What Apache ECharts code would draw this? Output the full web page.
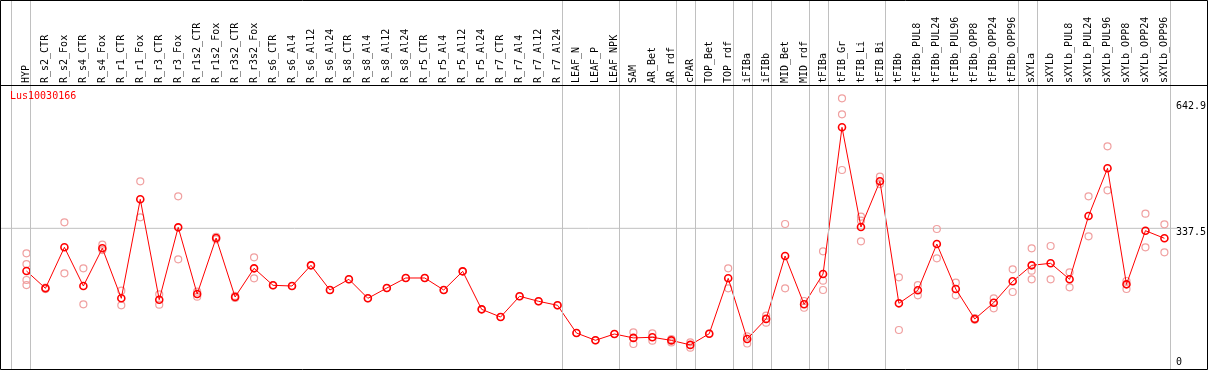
<!DOCTYPE html>
<html>
<head>
<meta charset="utf-8">
<script src="https://cdn.jsdelivr.net/npm/echarts@6/dist/echarts.min.js"></script>
<style>
html,body{margin:0;padding:0;background:#fff;}
#chart{width:1209px;height:370px;}
</style>
</head>
<body>
<div id="chart"></div>
<script>
const titleText = 'Lus10030166';
const categories = ['HYP','R_s2_CTR','R_s2_Fox','R_s4_CTR','R_s4_Fox','R_r1_CTR','R_r1_Fox','R_r3_CTR','R_r3_Fox','R_r1s2_CTR','R_r1s2_Fox','R_r3s2_CTR','R_r3s2_Fox','R_s6_CTR','R_s6_Al4','R_s6_Al12','R_s6_Al24','R_s8_CTR','R_s8_Al4','R_s8_Al12','R_s8_Al24','R_r5_CTR','R_r5_Al4','R_r5_Al12','R_r5_Al24','R_r7_CTR','R_r7_Al4','R_r7_Al12','R_r7_Al24','LEAF_N','LEAF_P','LEAF_NPK','SAM','AR_Bet','AR_rdf','cPAR','TOP_Bet','TOP_rdf','iFIBa','iFIBb','MID_Bet','MID_rdf','tFIBa','tFIB_Gr','tFIB_Li','tFIB_Bi','tFIBb','tFIBb_PUL8','tFIBb_PUL24','tFIBb_PUL96','tFIBb_OPP8','tFIBb_OPP24','tFIBb_OPP96','sXYLa','sXYLb','sXYLb_PUL8','sXYLb_PUL24','sXYLb_PUL96','sXYLb_OPP8','sXYLb_OPP24','sXYLb_OPP96'];
const means = [233.7,191.6,291.3,197.2,288.9,167.3,408.0,163.9,339.9,177.8,313.9,170.5,240.2,198.9,197.2,247.5,187.5,213.5,167.3,192.3,216.7,216.7,187.5,232.9,140.5,121.8,172.2,160.0,150.3,82.9,65.2,80.5,71.0,72.5,65.0,54.0,81.2,215.9,68.3,117.2,270.2,152.7,226.4,583.1,340.7,451.8,155.1,186.8,299.3,189.9,117.0,156.6,208.6,247.5,252.4,213.5,367.4,483.4,201.3,331.7,313.2];
const replicates = [
  [276.7,250.6,211.8,199.6],[193.5,189.7],[352.1,228.0],[240.2,152.7],[297.6,284.7],
  [185.8,150.3],[451.8,364.3],[177.0,151.7],[415.3,262.1],[183.4,171.2],
  [317.0,310.8],[173.0,168.0],[267.0,215.9],[198.9],[197.2],
  [247.5],[187.5],[213.5],[167.3],[192.3],
  [216.7],[216.7],[187.5],[232.9],[140.5],
  [121.8],[172.2],[160.0],[150.3],[82.9],
  [65.2],[80.5],[84.6,56.2],[82.2,64.2],[68.3,60.0],
  [60.3,47.2],[81.2],[240.2,191.6],[74.9,57.4],[125.0,108.0],
  [348.0,191.6],[160.7,144.4],[281.6,210.1,187.5],[653.6,614.7,479.3],[365.7,356.0,305.9],
  [463.0,445.2],[218.4,90.2],[199.6,174.6],[335.8,264.6],[205.2,174.6],
  [119.0,115.0],[167.3,143.0],[237.8,182.7],[288.9,234.4,213.5],[294.5,213.5],
  [230.5,194.0],[415.3,318.0],[536.9,429.9],[209.4,189.9],[373.0,291.3],
  [347.2,279.1]
];
const groupBoundaries = [-1,0,28,31,34,35,37,38,39,41,42,45,52,53,60];
const yTickValues = [0, 337.5, 642.9];
const refValue = 337.5;

const MONO = 'DejaVu Sans Mono';
const W = 1209, H = 370;
const PLOT_TOP = 85, PLOT_BOTTOM = 369;
const CAT_W = 19, FIRST_X = 26.5;
const gridLeft = FIRST_X - CAT_W / 2;
const gridWidth = CAT_W * categories.length;
const yMin = -4.6, yMax = 686;
const pxPerUnit = (PLOT_BOTTOM - PLOT_TOP) / (yMax - yMin);
// full-canvas decoration scales matching the plot scales
const fxMin = -FIRST_X / CAT_W, fxMax = fxMin + W / CAT_W;
const fyMax = yMax + PLOT_TOP / pxPerUnit, fyMin = yMin - (H - PLOT_BOTTOM) / pxPerUnit;
const sepOffset = 4 / CAT_W;

const repData = [];
replicates.forEach((r, i) => r.forEach(v => repData.push([categories[i], v])));

const chart = echarts.init(document.getElementById('chart'), null, {renderer: 'canvas'});
chart.setOption({
  animation: false,
  backgroundColor: '#fff',
  title: {
    text: titleText, left: 10, top: 91, padding: 0,
    textStyle: {fontFamily: MONO, fontSize: 10, fontWeight: 'normal', color: '#ff0000'}
  },
  grid: [
    {left: 0, top: 0, width: W, height: H, show: false},
    {left: gridLeft, top: PLOT_TOP, width: gridWidth, height: PLOT_BOTTOM - PLOT_TOP, show: false}
  ],
  xAxis: [
    {type: 'value', gridIndex: 0, min: fxMin, max: fxMax, show: false},
    {type: 'category', gridIndex: 1, data: categories, position: 'top',
     axisLine: {show: false}, axisTick: {show: false}, splitLine: {show: false},
     axisLabel: {interval: 0, rotate: 90, margin: 2, fontFamily: MONO, fontSize: 10, color: '#000'}}
  ],
  yAxis: [
    {type: 'value', gridIndex: 0, min: fyMin, max: fyMax, show: false},
    {type: 'value', gridIndex: 1, min: yMin, max: yMax, position: 'right',
     axisLine: {show: false}, axisTick: {show: false}, splitLine: {show: false},
     axisLabel: {
       customValues: yTickValues, margin: 2, fontFamily: MONO, fontSize: 10, color: '#000',
       formatter: v => v === 0 ? '{b|0}' : '{t|' + v + '}',
       rich: {
         t: {fontFamily: MONO, fontSize: 10, color: '#000', padding: [8, 0, 0, 0]},
         b: {fontFamily: MONO, fontSize: 10, color: '#000', padding: [0, 0, 10, 0]}
       }
     }}
  ],
  series: [
    {
      type: 'line', xAxisIndex: 0, yAxisIndex: 0, silent: true, z: 1,
      data: [[fxMin, refValue], [(1177.5 - FIRST_X) / CAT_W, refValue]],
      symbol: 'none', lineStyle: {color: '#c0c0c0', width: 1},
      markLine: {
        silent: true, symbol: 'none', label: {show: false},
        lineStyle: {color: '#c0c0c0', width: 1, type: 'solid'},
        data: groupBoundaries.map(b => ({xAxis: b + sepOffset}))
      }
    },
    {
      type: 'scatter', xAxisIndex: 1, yAxisIndex: 1, z: 2, silent: true,
      data: repData, symbol: 'circle', symbolSize: 7,
      itemStyle: {color: 'rgba(0,0,0,0)', borderColor: '#f0a0a0', borderWidth: 1.2, opacity: 1}
    },
    {
      type: 'line', xAxisIndex: 1, yAxisIndex: 1, z: 3, silent: true,
      data: means, symbol: 'circle', symbolSize: 7, showAllSymbol: true,
      lineStyle: {color: '#ff0000', width: 1},
      itemStyle: {color: 'rgba(0,0,0,0)', borderColor: '#ff0000', borderWidth: 1.6}
    }
  ],
  graphic: [
    {type: 'rect', z: 100, silent: true, shape: {x: 0.5, y: 0.5, width: 1207, height: 369},
     style: {fill: null, stroke: '#000', lineWidth: 1}},
    {type: 'line', z: 100, silent: true, shape: {x1: 0, y1: 85.5, x2: 1208, y2: 85.5},
     style: {stroke: '#000', lineWidth: 1}}
  ]
});
</script>
</body>
</html>
